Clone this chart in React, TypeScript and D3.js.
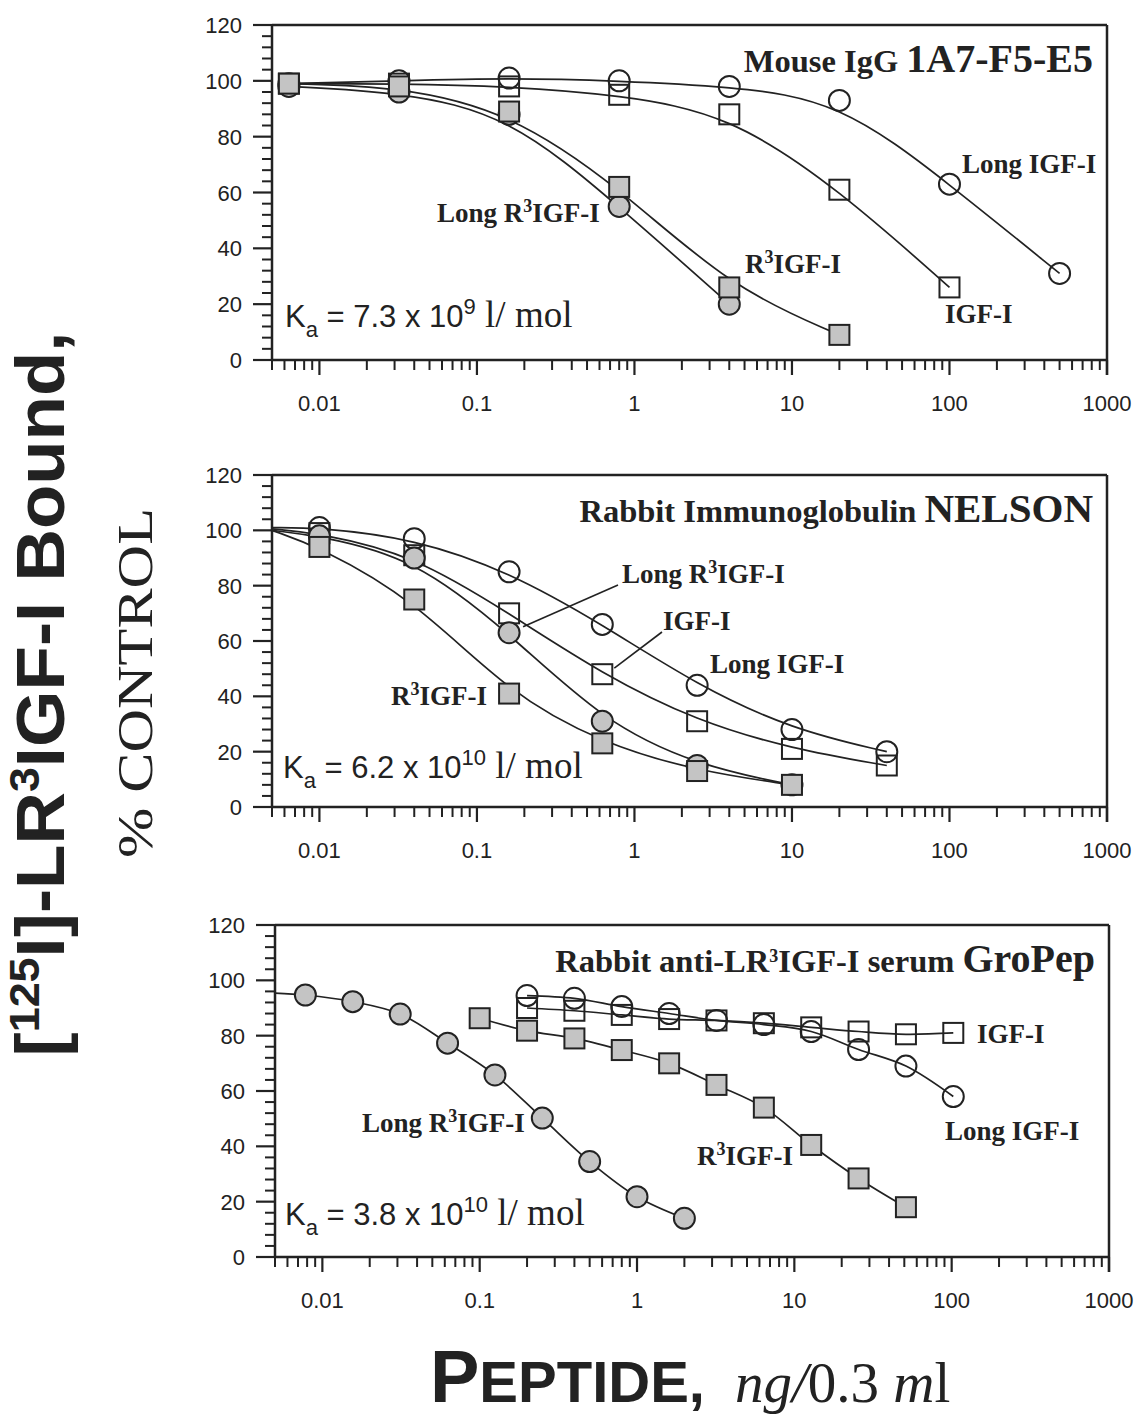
import React from "react";
import * as d3 from "d3";

// ---------------- data (ng/0.3 ml vs % control) ----------------
// Panel A: Mouse IgG 1A7-F5-E5
const mouseDose = [0.0064, 0.032, 0.16, 0.8, 4, 20, 100, 500];
const mouseLongIGF = [99, 100, 101, 100, 98, 93, 63, 31];
const mouseIGF = [99, 99, 98, 95, 88, 61, 26];
const mouseR3IGF = [99, 98, 89, 62, 26, 9];
const mouseLongR3IGF = [98, 96, 88, 55, 20];

// Panel B: Rabbit Immunoglobulin NELSON
const nelsonDose = [0.01, 0.04, 0.16, 0.625, 2.5, 10, 40];
const nelsonLongIGF = [101, 97, 85, 66, 44, 28, 20];
const nelsonIGF = [99, 91, 70, 48, 31, 21, 15];
const nelsonLongR3IGF = [98, 90, 63, 31, 15, 8];
const nelsonR3IGF = [94, 75, 41, 23, 13, 8];
// fitted curve value where each curve meets the left axis: LongIGF, IGF, LongR3, R3
const nelsonCurveStart = [101, 100.5, 100, 100];

// Panel C: Rabbit anti-LR3IGF-I serum GroPep
const groLongR3Dose = [0.0078, 0.0156, 0.03125, 0.0625, 0.125, 0.25, 0.5, 1, 2];
const groLongR3IGF = [94.7, 92.3, 87.8, 77.3, 65.8, 50.2, 34.5, 21.8, 14];
const groLongR3CurveStart = 95.4;
const groR3Dose = [0.1, 0.2, 0.4, 0.8, 1.6, 3.2, 6.4, 12.8, 25.6, 51.2];
const groR3IGF = [86.3, 81.8, 79, 74.8, 70, 62.2, 54, 40.5, 28.4, 18];
const groIGFDose = [0.2, 0.4, 0.8, 1.6, 3.2, 6.4, 12.8, 25.6, 51.2, 102.4];
const groIGF = [90, 89, 87.5, 86, 85.5, 84.5, 83, 81.5, 80.5, 81];
const groLongIGF = [94.5, 93.5, 90.5, 88, 85.5, 84, 81.5, 75, 69, 58];

const kaMantissa = ["7.3", "6.2", "3.8"];
const kaExponent = ["9", "10", "10"];

const xDomain = [0.005, 1000];
const yDomain = [0, 120];
const yMajorTicks = [0, 20, 40, 60, 80, 100, 120];

// ---------------- styles ----------------
const INK = "#222";
const SHADE = "#c4c4c4";
const SANS = "'Liberation Sans', Arial, sans-serif";
const SERIF = "'Liberation Serif', 'Times New Roman', serif";

type Series = {
  dose: number[];
  values: number[];
  shape: "circle" | "square";
  filled: boolean;
  start?: number;
};

type Part = { t: string; sup?: number; sub?: number; size?: number; family?: string; italic?: boolean; weight?: string };

function Rich(props: {
  x: number; y: number; parts: Part[]; size: number; family: string;
  weight?: string; anchor?: string; transform?: string; textLength?: number; adjust?: string;
}) {
  let shift = 0;
  const spans = props.parts.map((p, i) => {
    const target = p.sup ? -p.sup : p.sub ? p.sub : 0;
    const dy = target - shift;
    shift = target;
    return (
      <tspan
        key={i}
        dy={dy}
        fontSize={p.size ?? props.size}
        fontFamily={p.family ?? props.family}
        fontStyle={p.italic ? "italic" : "normal"}
        fontWeight={p.weight ?? props.weight ?? "normal"}
      >
        {p.t}
      </tspan>
    );
  });
  return (
    <text
      x={props.x}
      y={props.y}
      textAnchor={props.anchor ?? "start"}
      fill={INK}
      transform={props.transform}
      textLength={props.textLength}
      lengthAdjust={props.adjust}
      style={{ whiteSpace: "pre" }}
    >
      {spans}
    </text>
  );
}

type Layout = { left: number; right: number; top: number; bottom: number };

function Panel(props: {
  layout: Layout;
  series: Series[];
  fitted: boolean;
  title: Part[];
  labels: { x: number; y: number; parts: Part[] }[];
  leaders?: { dose: number; value: number; dx: number; dy: number; x2: number; y2: number }[];
  ka: number;
  kaX: number;
  kaY: number;
}) {
  const { left, right, top, bottom } = props.layout;
  const x = d3.scaleLog().domain(xDomain).range([left, right]);
  const y = d3.scaleLinear().domain(yDomain).range([bottom, top]);
  const line = d3
    .line<[number, number]>()
    .x((d) => x(d[0]))
    .y((d) => y(d[1]))
    .curve(props.fitted ? d3.curveBasis : d3.curveCatmullRom.alpha(0.5));

  const xTicks = x.ticks();
  const isMajor = (v: number) => Math.abs(Math.log10(v) - Math.round(Math.log10(v))) < 1e-6;
  const yMinor = d3.range(0, 121, 4).filter((v) => v % 20 !== 0);
  const fmt = d3.format("~g");

  return (
    <g>
      {/* curves */}
      {props.series.map((s, i) => {
        const pts: [number, number][] = s.values.map((v, j) => [s.dose[j], v]);
        if (s.start !== undefined) pts.unshift([xDomain[0], s.start]);
        return <path key={"c" + i} d={line(pts) ?? ""} fill="none" stroke={INK} strokeWidth={1.7} />;
      })}
      {/* leaders */}
      {(props.leaders ?? []).map((l, i) => (
        <line key={"l" + i} x1={x(l.dose) + l.dx} y1={y(l.value) + l.dy} x2={l.x2} y2={l.y2} stroke={INK} strokeWidth={1.6} />
      ))}
      {/* markers */}
      {props.series.map((s, i) =>
        s.values.map((v, j) =>
          s.shape === "circle" ? (
            <circle
              key={"m" + i + "-" + j}
              cx={x(s.dose[j])}
              cy={y(v)}
              r={10.5}
              fill={s.filled ? SHADE : "none"}
              stroke={INK}
              strokeWidth={2}
            />
          ) : (
            <rect
              key={"m" + i + "-" + j}
              x={x(s.dose[j]) - 10}
              y={y(v) - 10}
              width={20}
              height={20}
              fill={s.filled ? SHADE : "none"}
              stroke={INK}
              strokeWidth={2}
            />
          )
        )
      )}
      {/* frame */}
      <line x1={left} y1={top} x2={right} y2={top} stroke={INK} strokeWidth={2.5} />
      <line x1={right} y1={top} x2={right} y2={bottom + 15} stroke={INK} strokeWidth={2.5} />
      <line x1={left} y1={top} x2={left} y2={bottom} stroke={INK} strokeWidth={2.5} />
      <line x1={left} y1={bottom} x2={right} y2={bottom} stroke={INK} strokeWidth={2.5} />
      {/* y ticks */}
      {yMajorTicks.map((v) => (
        <g key={"ym" + v}>
          <line x1={left - 19} y1={y(v)} x2={left} y2={y(v)} stroke={INK} strokeWidth={2.2} />
          <text x={left - 30} y={y(v) + 8} textAnchor="end" fontFamily={SANS} fontSize={22} fill={INK}>
            {v}
          </text>
        </g>
      ))}
      {yMinor.map((v) => (
        <line key={"yn" + v} x1={left - 10} y1={y(v)} x2={left} y2={y(v)} stroke={INK} strokeWidth={2} />
      ))}
      {/* x ticks */}
      {xTicks.map((v, i) =>
        isMajor(v) ? (
          <g key={"xt" + i}>
            <line x1={x(v)} y1={bottom} x2={x(v)} y2={bottom + 15} stroke={INK} strokeWidth={2.2} />
            <text x={x(v)} y={bottom + 51} textAnchor="middle" fontFamily={SANS} fontSize={22} fill={INK}>
              {fmt(v)}
            </text>
          </g>
        ) : (
          <line key={"xt" + i} x1={x(v)} y1={bottom} x2={x(v)} y2={bottom + 10} stroke={INK} strokeWidth={2} />
        )
      )}
      {/* title */}
      <Rich x={right - 14} y={top + 47} parts={props.title} size={32.5} family={SERIF} weight="bold" anchor="end" />
      {/* series labels */}
      {props.labels.map((l, i) => (
        <Rich key={"lab" + i} x={l.x} y={l.y} parts={l.parts} size={27} family={SERIF} weight="bold" />
      ))}
      {/* Ka */}
      <Rich
        x={props.kaX}
        y={props.kaY}
        size={31}
        family={SANS}
        parts={[
          { t: "K" },
          { t: "a", size: 22, sub: 10 },
          { t: " = " + kaMantissa[props.ka] + " x 10" },
          { t: kaExponent[props.ka], size: 22, sup: 13 },
          { t: " l/ mol", family: SERIF, size: 37 },
        ]}
      />
    </g>
  );
}

const sup3 = (size: number): Part => ({ t: "3", sup: 10, size });

export default function App() {
  const panelA: Series[] = [
    { dose: mouseDose, values: mouseLongIGF, shape: "circle", filled: false },
    { dose: mouseDose, values: mouseIGF, shape: "square", filled: false },
    { dose: mouseDose, values: mouseLongR3IGF, shape: "circle", filled: true },
    { dose: mouseDose, values: mouseR3IGF, shape: "square", filled: true },
  ];
  const panelB: Series[] = [
    { dose: nelsonDose, values: nelsonLongIGF, shape: "circle", filled: false, start: nelsonCurveStart[0] },
    { dose: nelsonDose, values: nelsonIGF, shape: "square", filled: false, start: nelsonCurveStart[1] },
    { dose: nelsonDose, values: nelsonLongR3IGF, shape: "circle", filled: true, start: nelsonCurveStart[2] },
    { dose: nelsonDose, values: nelsonR3IGF, shape: "square", filled: true, start: nelsonCurveStart[3] },
  ];
  const panelC: Series[] = [
    { dose: groIGFDose, values: groIGF, shape: "square", filled: false },
    { dose: groIGFDose, values: groLongIGF, shape: "circle", filled: false },
    { dose: groR3Dose, values: groR3IGF, shape: "square", filled: true },
    { dose: groLongR3Dose, values: groLongR3IGF, shape: "circle", filled: true, start: groLongR3CurveStart },
  ];

  return (
    <svg width={1140} height={1418} style={{ display: "block", position: "absolute", left: 0, top: 0, background: "#fff" }}>
      <rect x={0} y={0} width={1140} height={1418} fill="#fff" />
      <Panel
        layout={{ left: 272, right: 1107, top: 25, bottom: 360 }}
        series={panelA}
        fitted={true}
        title={[{ t: "Mouse IgG " }, { t: "1A7-F5-E5", size: 40 }]}
        labels={[
          { x: 962, y: 173, parts: [{ t: "Long IGF-I" }] },
          { x: 945, y: 323, parts: [{ t: "IGF-I" }] },
          { x: 745, y: 273, parts: [{ t: "R" }, sup3(18), { t: "IGF-I" }] },
          { x: 437, y: 222, parts: [{ t: "Long R" }, sup3(18), { t: "IGF-I" }] },
        ]}
        ka={0}
        kaX={285}
        kaY={327}
      />
      <Panel
        layout={{ left: 272, right: 1107, top: 475, bottom: 807 }}
        series={panelB}
        fitted={true}
        title={[{ t: "Rabbit Immunoglobulin " }, { t: "NELSON", size: 41 }]}
        labels={[
          { x: 622, y: 583, parts: [{ t: "Long R" }, sup3(18), { t: "IGF-I" }] },
          { x: 663, y: 630, parts: [{ t: "IGF-I" }] },
          { x: 710, y: 673, parts: [{ t: "Long IGF-I" }] },
          { x: 391, y: 705, parts: [{ t: "R" }, sup3(18), { t: "IGF-I" }] },
        ]}
        leaders={[
          { dose: 0.16, value: 63, dx: 14, dy: -6, x2: 618, y2: 585 },
          { dose: 0.625, value: 48, dx: 12, dy: -6, x2: 662, y2: 632 },
        ]}
        ka={1}
        kaX={283}
        kaY={778}
      />
      <Panel
        layout={{ left: 275, right: 1109, top: 925, bottom: 1257 }}
        series={panelC}
        fitted={false}
        title={[
          { t: "Rabbit anti-LR" },
          sup3(18),
          { t: "IGF-I serum " },
          { t: "GroPep", size: 40 },
        ]}
        labels={[
          { x: 977, y: 1043, parts: [{ t: "IGF-I" }] },
          { x: 945, y: 1140, parts: [{ t: "Long IGF-I" }] },
          { x: 697, y: 1165, parts: [{ t: "R" }, sup3(18), { t: "IGF-I" }] },
          { x: 362, y: 1132, parts: [{ t: "Long R" }, sup3(18), { t: "IGF-I" }] },
        ]}
        ka={2}
        kaX={285}
        kaY={1225}
      />
      {/* y axis title */}
      <Rich
        x={0}
        y={0}
        transform="translate(64, 694) rotate(-90)"
        anchor="middle"
        size={68}
        family={SANS}
        weight="bold"
        textLength={725}
        adjust="spacingAndGlyphs"
        parts={[
          { t: "[" },
          { t: "125", size: 42, sup: 25 },
          { t: "I]-LR" },
          { t: "3", size: 42, sup: 25 },
          { t: "IGF-I Bound," },
        ]}
      />
      <Rich
        x={0}
        y={0}
        transform="translate(152, 683) rotate(-90)"
        anchor="middle"
        size={51}
        family={SERIF}
        textLength={350}
        adjust="spacingAndGlyphs"
        parts={[{ t: "% CONTROL" }]}
      />
      {/* x axis title */}
      <Rich
        x={430}
        y={1402}
        size={58}
        family={SANS}
        weight="bold"
        parts={[{ t: "P", size: 74 }, { t: "EPTIDE," }]}
      />
      <Rich
        x={735}
        y={1402}
        size={57}
        family={SERIF}
        parts={[{ t: "ng/", italic: true }, { t: "0.3 " }, { t: "m", italic: true }, { t: "l" }]}
      />
    </svg>
  );
}
